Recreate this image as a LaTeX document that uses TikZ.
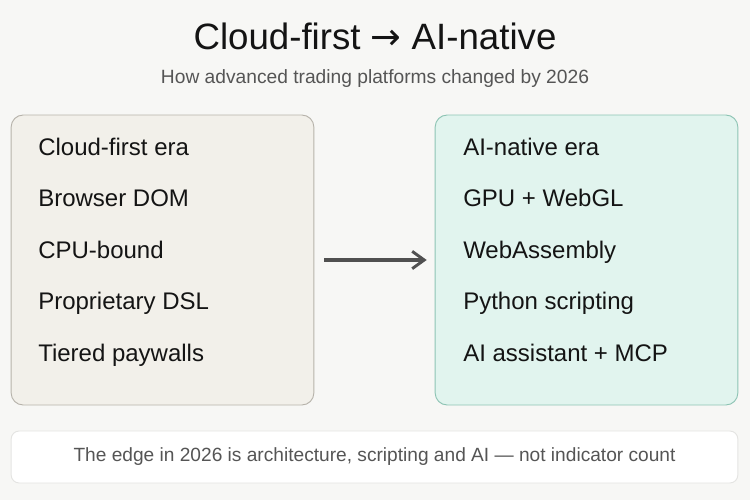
\documentclass[tikz,border=0pt]{standalone}
\usepackage{fontspec}
\setmainfont{Liberation Sans}
\newfontfamily\symfont{DejaVu Sans}
\usetikzlibrary{arrows.meta,positioning}
\definecolor{pagebg}{HTML}{F7F7F5}
\definecolor{cloudfill}{HTML}{F2F0EA}
\definecolor{clouddraw}{HTML}{B7B3AB}
\definecolor{aifill}{HTML}{E1F4EE}
\definecolor{aidraw}{HTML}{8EC4B4}
\definecolor{inkdark}{HTML}{141414}
\definecolor{inkgray}{HTML}{555555}
\definecolor{arrowgray}{HTML}{505050}
\definecolor{notedraw}{HTML}{E4E4E2}

\begin{document}
\begin{tikzpicture}[
  x=0.75pt, y=-0.75pt,
  era/.style={draw, rounded corners=9pt, line width=0.7pt,
              minimum width=227pt, minimum height=217.5pt},
  item/.style={inner sep=0pt, text height=13pt, text depth=3.5pt,
               font=\fontsize{18}{20}\selectfont, text=inkdark},
  arr/.style={-{Straight Barb[length=9pt,width=13pt,line width=2.2pt]},
              line width=2.4pt, draw=arrowgray}
]
  \fill[pagebg] (0,0) rectangle (750,500);

  % title
  \node[anchor=base, font=\fontsize{27.5}{30}\selectfont, text=inkdark]
    (title) at (375,49) {Cloud-first {\symfont →} AI-native};
  \node[anchor=base, font=\fontsize{14.4}{16}\selectfont, text=inkgray]
    (subtitle) at (375,83) {How advanced trading platforms changed by 2026};

  % the two eras
  \node[era, fill=cloudfill, draw=clouddraw] (cloud) at (162.5,260) {};
  \node[era, fill=aifill, draw=aidraw]       (ainat) at (586.5,260) {};

  \node[item, anchor=north west] (chead) at (38,137.7) {Cloud-first era};
  \node[item, below=21.75pt of chead.south west, anchor=north west] (c1) {Browser DOM};
  \node[item, below=21.75pt of c1.south west, anchor=north west]    (c2) {CPU-bound};
  \node[item, below=21.75pt of c2.south west, anchor=north west]    (c3) {Proprietary DSL};
  \node[item, below=21.75pt of c3.south west, anchor=north west]    (c4) {Tiered paywalls};

  \node[item, anchor=north west] (ahead) at (463,137.7) {AI-native era};
  \node[item, below=21.75pt of ahead.south west, anchor=north west] (a1) {GPU + WebGL};
  \node[item, below=21.75pt of a1.south west, anchor=north west]    (a2) {WebAssembly};
  \node[item, below=21.75pt of a2.south west, anchor=north west]    (a3) {Python scripting};
  \node[item, below=21.75pt of a3.south west, anchor=north west]    (a4) {AI assistant + MCP};

  \draw[arr, shorten <=7.5pt, shorten >=6pt] (cloud) -- (ainat);

  % takeaway
  \node[draw=notedraw, fill=white, rounded corners=6pt, line width=0.7pt,
        minimum width=545pt, minimum height=39pt,
        font=\fontsize{14.35}{16}\selectfont, text=inkgray]
    (note) at (374.5,457)
    {The edge in 2026 is architecture, scripting and AI — not indicator count};
\end{tikzpicture}
\end{document}
